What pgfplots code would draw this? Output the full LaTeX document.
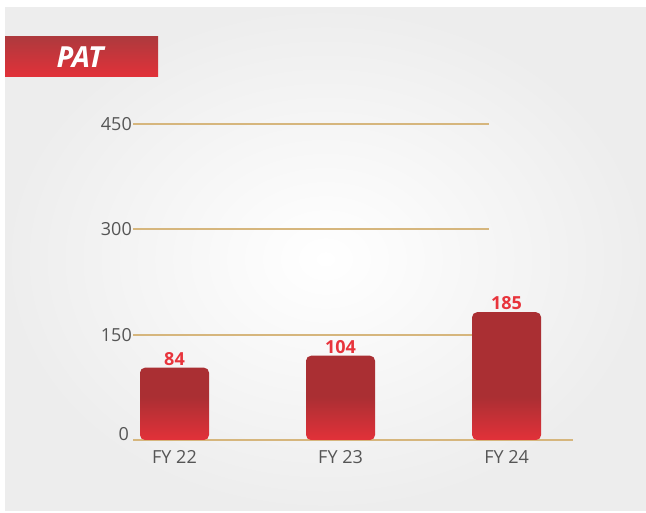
\documentclass[border=0pt]{standalone}
\usepackage{pgfplots}
\pgfplotsset{compat=1.18}
\usepackage{fontspec}
\setmainfont{Open Sans}
\definecolor{gridtan}{RGB}{214,182,125}
\definecolor{bardark}{RGB}{170,47,51}
\definecolor{barlight}{RGB}{226,49,57}
\definecolor{labelred}{RGB}{232,52,60}
\definecolor{ticktext}{RGB}{85,85,85}
\pgfdeclareverticalshading{barshade}{100bp}{color(0bp)=(barlight); color(25bp)=(barlight); color(42bp)=(bardark); color(100bp)=(bardark)}
\begin{document}
\begin{tikzpicture}
\path[use as bounding box] (0,0) rectangle (646pt,512pt);
\fill[white] (0,0) rectangle (646pt,512pt);
\shade[inner color=white, outer color=black!7] (5pt,2pt) rectangle (646pt,504pt);
\shade[top color=bardark!95!white, bottom color=barlight] (5pt,435pt) rectangle (158pt,475pt);
\node[text=white, font=\fontsize{29}{29}\selectfont\bfseries\itshape] at (80pt,455pt) {PAT};
\begin{axis}[
  at={(133pt,72pt)}, anchor=south west,
  scale only axis, width=440pt, height=316pt,
  xmin=-0.25, xmax=2.4, ymin=0, ymax=450,
  enlargelimits=false, clip=false,
  axis lines=left,
  y axis line style={draw=none},
  x axis line style={draw=gridtan, line width=1.8pt, -},
  tick style={draw=none}, major tick length=0pt,
  /pgf/number format/assume math mode=true,
  ytick={150,300,450},
  extra y ticks={0},
  extra y tick style={yticklabel style={yshift=6pt, xshift=-3pt}},
  xtick={0,1,2}, xticklabels={FY 22, FY 23, FY 24},
  yticklabel style={font=\fontsize{18}{18}\selectfont, text=ticktext, inner sep=1pt},
  xticklabel style={font=\fontsize{18}{18}\selectfont, text=ticktext, yshift=-7pt},
  nodes near coords style={font=\fontsize{18}{18}\selectfont\bfseries, text=labelred, anchor=south, inner sep=0pt, yshift=2pt},
]
\draw[gridtan, line width=1.8pt] (axis cs:-0.25,450) -- (axis cs:1.895,450);
\draw[gridtan, line width=1.8pt] (axis cs:-0.25,300.47) -- (axis cs:1.895,300.47);
\draw[gridtan, line width=1.8pt] (axis cs:-0.25,150) -- (axis cs:1.895,150);
\addplot[ybar, bar width=69pt, draw=none, shade, shading=barshade, rounded corners=5pt,
  nodes near coords, point meta=explicit symbolic]
  coordinates {(0,103) [84] (1,120) [104] (2,182) [185]};
\end{axis}
\end{tikzpicture}
\end{document}
